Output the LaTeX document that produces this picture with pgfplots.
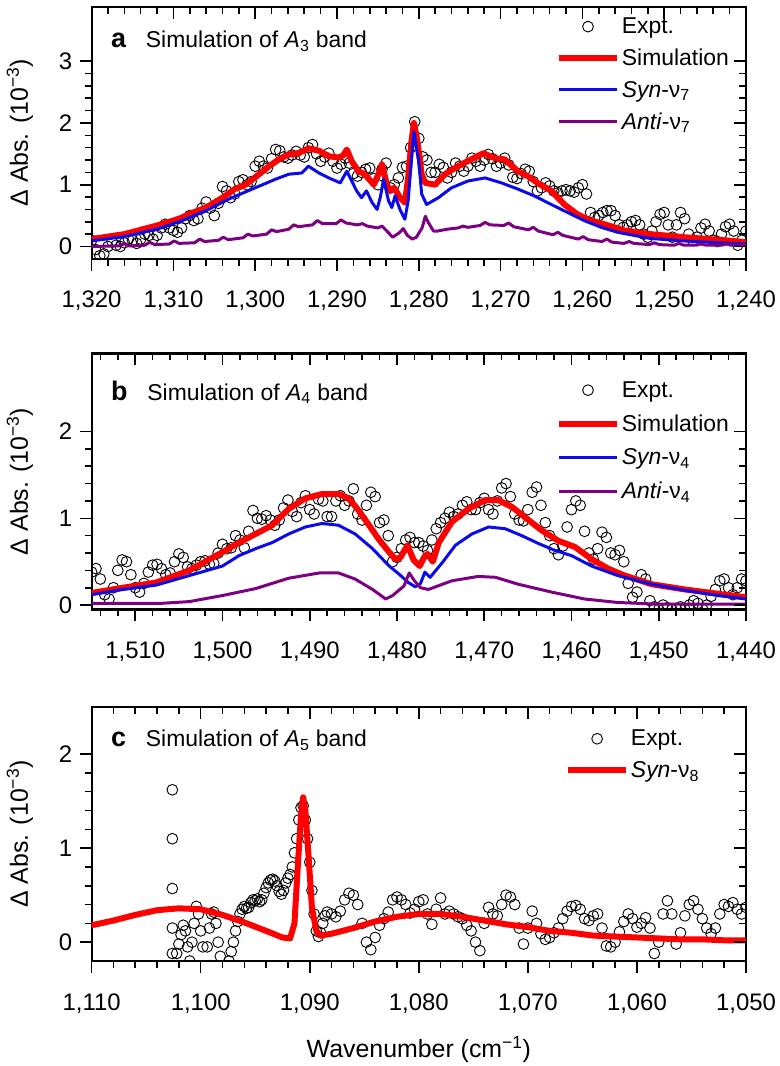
\documentclass[border=0pt]{standalone}
\usepackage{fontspec}
\setmainfont{Liberation Sans}
\usepackage{pgfplots}
\pgfplotsset{compat=1.18}

\definecolor{simred}{RGB}{255,0,0}
\definecolor{synblue}{RGB}{10,10,235}
\definecolor{antipurple}{RGB}{125,0,130}

\pgfplotsset{
  base/.style={scale only axis, width=657pt, x dir=reverse,
    xtick distance=10, minor x tick num=4, minor y tick num=4,
    major tick length=12pt, minor tick length=7pt,
    tick style={black, line width=1.6pt}},
  panel/.style={base, axis line style={line width=2.2pt},
    tick align=outside, xtick pos=bottom, ytick pos=left,
    tick label style={font=\fontsize{24}{28}\selectfont, /pgf/number format/assume math mode=true},
    xticklabel style={/pgf/number format/1000 sep={,}, yshift=-17pt},
    yticklabel style={xshift=-4pt},
    ylabel={Δ Abs. (10\textsuperscript{−3})},
    ylabel style={at={(axis description cs:-0.1096,0.5)}, anchor=center, font=\fontsize{25}{30}\selectfont},
    clip marker paths=true,
    legend cell align=left,
    legend style={draw=none, fill=none, at={(rel axis cs:1,1)}, anchor=north east,
      xshift=-12pt, yshift=-7pt, font=\fontsize{23}{27}\selectfont, row sep=10pt},
    legend image code/.code={\draw[mark repeat=2,mark phase=2,##1] plot coordinates {(0pt,0pt) (29pt,0pt) (58pt,0pt)};},
  },
  mirror/.style={base, axis line style={draw=none}, tick align=inside,
    xtick pos=top, ytick pos=right, xticklabels={}, yticklabels={}},
  expt/.style={only marks, mark=o, mark size=5.4pt, line width=0.9pt, black},
  sim/.style={simred, line width=6pt, line join=round},
  syn/.style={synblue, line width=3pt, line join=round},
  anti/.style={antipurple, line width=3pt, line join=round},
}

\begin{document}
\begin{tikzpicture}[font=\fontsize{23}{27}\selectfont]
\path (-92pt,5pt) (689pt,-1061pt);

% ---------------- panel a
\begin{axis}[panel, at={(0pt,0pt)}, anchor=north west, height=253pt,
  xmin=1240, xmax=1320, ymin=-0.2, ymax=3.88, ytick={0,1,2,3}]
\addplot[expt] coordinates {
(1320,0.1) (1319.5,-0.05) (1319,-0.15) (1318.5,-0.12) (1318,0.0) (1317.5,0.08) (1317,0.02) (1316.5,0.0)
(1316,0.06) (1315.5,0.12) (1315,0.1) (1314.5,0.05) (1314,0.12) (1313.5,0.2) (1313,0.18) (1312.5,0.12)
(1312,0.18) (1311.5,0.3) (1311,0.36) (1310.5,0.3) (1310,0.26) (1309.5,0.23) (1309,0.3) (1308.5,0.45)
(1308,0.5) (1307.5,0.42) (1307,0.45) (1306.5,0.62) (1306,0.72) (1305.5,0.62) (1305,0.5) (1304.5,0.7)
(1304,0.97) (1303.5,0.9) (1303,0.79) (1302.5,0.85) (1302,1.05) (1301.5,1.08) (1301,1.0) (1300.5,1.05)
(1300,1.3) (1299.5,1.38) (1299,1.3) (1298.5,1.27) (1298,1.42) (1297.5,1.57) (1297,1.55) (1296.5,1.45)
(1296,1.43) (1295.5,1.48) (1295,1.54) (1294.5,1.48) (1294,1.45) (1293.5,1.6) (1293,1.65) (1292.5,1.5)
(1292,1.38) (1291.5,1.45) (1291,1.51) (1290.5,1.38) (1290,1.27) (1289.5,1.33) (1289,1.43) (1288.5,1.35)
(1288,1.18) (1287.5,1.14) (1287,1.2) (1286.5,1.25) (1286,1.27) (1285.5,1.1) (1285,1.0) (1284.5,1.25)
(1284,1.35) (1283.5,0.95) (1283,1.0) (1282.5,1.11) (1282,1.28) (1281.5,1.3) (1281,1.6) (1280.5,2.02)
(1280,1.75) (1279.5,1.45) (1279,1.4) (1278.5,1.2) (1278,1.2) (1277.5,1.33) (1277,1.28) (1276.5,1.11)
(1276,1.2) (1275.5,1.35) (1275,1.3) (1274.5,1.22) (1274,1.3) (1273.5,1.43) (1273,1.38) (1272.5,1.3)
(1272,1.4) (1271.5,1.49) (1271,1.42) (1270.5,1.3) (1270,1.35) (1269.5,1.43) (1269,1.32) (1268.5,1.12)
(1268,1.1) (1267.5,1.18) (1267,1.25) (1266.5,1.22) (1266,1.05) (1265.5,0.9) (1265,0.95) (1264.5,1.03)
(1264,0.98) (1263.5,0.9) (1263,0.87) (1262.5,0.9) (1262,0.92) (1261.5,0.9) (1261,0.88) (1260.5,0.95)
(1260,1.0) (1259.5,0.85) (1259,0.55) (1258.5,0.47) (1258,0.5) (1257.5,0.55) (1257,0.58) (1256.5,0.58)
(1256,0.5) (1255.5,0.35) (1255,0.31) (1254.5,0.35) (1254,0.4) (1253.5,0.42) (1253,0.35) (1252.5,0.2)
(1252,0.15) (1251.5,0.25) (1251,0.4) (1250.5,0.52) (1250,0.55) (1249.5,0.35) (1249,0.15) (1248.5,0.35)
(1248,0.55) (1247.5,0.45) (1247,0.2) (1246.5,0.1) (1246,0.15) (1245.5,0.3) (1245,0.36) (1244.5,0.25)
(1244,0.1) (1243.5,0.08) (1243,0.2) (1242.5,0.32) (1242,0.36) (1241.5,0.25) (1241,0.02) (1240.5,0.1)
(1240,0.25)};
\addlegendentry{Expt.}
\addplot[sim] coordinates {
(1320,0.12) (1318,0.16) (1316,0.2) (1314,0.27) (1312,0.34) (1310,0.42) (1308.9,0.47) (1308,0.53)
(1306,0.63) (1304,0.79) (1302.5,0.93) (1301.2,1.0) (1300,1.12) (1298.3,1.3) (1297,1.42) (1295.9,1.49)
(1294.7,1.51) (1293.5,1.59) (1292.2,1.55) (1291,1.46) (1289.8,1.44) (1289.2,1.48) (1288.8,1.57) (1288.2,1.38)
(1287.4,1.22) (1286.6,1.17) (1285.5,1.0) (1285,1.15) (1284.5,1.33) (1283.9,1.0) (1283.5,0.9) (1283,0.95)
(1282.3,0.79) (1281.7,0.71) (1281.3,1.11) (1280.9,1.7) (1280.6,2.0) (1280.3,1.8) (1280,1.54) (1279.65,1.17)
(1279.2,1.03) (1278,1.0) (1276.8,1.17) (1275.2,1.3) (1273.6,1.41) (1272.1,1.51) (1270.7,1.43) (1269.5,1.41)
(1267.9,1.22) (1266.7,1.14) (1265.5,1.03) (1263.8,0.9) (1262.2,0.68) (1260.6,0.52) (1259,0.42) (1257.3,0.36)
(1254.9,0.26) (1251.7,0.2) (1247.6,0.15) (1243.5,0.11) (1240,0.07)};
\addlegendentry{Simulation}
\addplot[syn] coordinates {
(1320,0.09) (1316,0.16) (1312,0.28) (1308.9,0.42) (1306,0.58) (1303.2,0.77) (1300,0.95) (1297.5,1.09)
(1295.9,1.17) (1294.3,1.19) (1293.5,1.3) (1292.2,1.19) (1291,1.11) (1289.6,1.03) (1288.8,1.22) (1288.2,1.06)
(1287.6,0.9) (1287,0.79) (1286.4,0.9) (1285.7,0.71) (1285.1,0.6) (1284.7,0.8) (1284.3,1.09) (1283.7,0.74)
(1283.3,0.63) (1282.9,0.82) (1282.3,0.6) (1281.7,0.44) (1281.3,0.74) (1280.9,1.4) (1280.6,1.86) (1280.3,1.6)
(1280,1.38) (1279.65,0.85) (1279.05,0.68) (1277.6,0.79) (1276,0.95) (1274,1.06) (1271.9,1.11) (1269.9,1.03)
(1267.9,0.93) (1265.9,0.82) (1263.8,0.68) (1261.8,0.55) (1259.8,0.42) (1257.7,0.31) (1255.7,0.23) (1253.7,0.18)
(1251.7,0.13) (1247.6,0.09) (1243.5,0.06) (1240,0.04)};
\addlegendentry{\textit{Syn}-ν\textsubscript{7}}
\addplot[anti] coordinates {
(1320,0.0) (1316.5,0.01) (1316,0.05) (1315.4,0.01) (1313.5,0.02) (1312.9,0.07) (1312.3,0.03) (1310.5,0.04)
(1309.9,0.09) (1309.3,0.05) (1307.4,0.06) (1306.8,0.12) (1306.2,0.08) (1304.5,0.1) (1303.9,0.15) (1303.3,0.11)
(1301.5,0.14) (1300.9,0.2) (1300.3,0.17) (1298.6,0.2) (1298,0.27) (1297.4,0.24) (1295.9,0.28) (1295.3,0.35)
(1294.7,0.32) (1293,0.35) (1292.4,0.42) (1291.8,0.37) (1290.1,0.37) (1289.5,0.43) (1288.9,0.38) (1287.5,0.35)
(1286.9,0.37) (1286.3,0.33) (1285,0.3) (1284.5,0.33) (1283.9,0.25) (1283.2,0.15) (1282.4,0.22) (1281.9,0.29)
(1281.4,0.18) (1280.8,0.12) (1280.3,0.15) (1279.6,0.3) (1279.2,0.49) (1278.8,0.38) (1278.2,0.25) (1277.7,0.25)
(1276.5,0.28) (1275.2,0.3) (1274.6,0.33) (1274,0.31) (1272.5,0.34) (1271.9,0.39) (1271.3,0.35) (1269.6,0.34)
(1269,0.38) (1268.4,0.32) (1266.6,0.27) (1266,0.31) (1265.4,0.25) (1263.6,0.19) (1263,0.23) (1262.4,0.18)
(1260.5,0.12) (1259.9,0.16) (1259.3,0.11) (1257.6,0.08) (1257,0.12) (1256.4,0.07) (1254.9,0.05) (1254.3,0.08)
(1253.7,0.05) (1251.8,0.03) (1251.2,0.06) (1250.6,0.03) (1248.8,0.02) (1248.2,0.05) (1247.6,0.02) (1246.1,0.02)
(1245.5,0.04) (1244.9,0.02) (1243,0.02) (1242.4,0.04) (1241.8,0.02) (1240,0.02)};
\addlegendentry{\textit{Anti}-ν\textsubscript{7}}
\node[anchor=base west, xshift=16pt, yshift=-41pt] at (rel axis cs:0,1)
  {{\fontsize{27}{30}\selectfont\bfseries a}\hspace{20pt}Simulation of \textit{A}\textsubscript{3} band};
\end{axis}
\begin{axis}[mirror, at={(0pt,0pt)}, anchor=north west, height=253pt,
  xmin=1240, xmax=1320, ymin=-0.2, ymax=3.88, ytick={0,1,2,3}]
\end{axis}

% ---------------- panel b
\begin{axis}[panel, at={(0pt,-348pt)}, anchor=north west, height=257pt,
  xmin=1440, xmax=1515, ymin=-0.05, ymax=2.9, ytick={0,1,2},
  legend style={yshift=-17pt, row sep=12pt}]
\addplot[expt] coordinates {
(1515,0.38) (1514.5,0.42) (1514,0.3) (1513.5,0.12) (1513,0.07) (1512.5,0.2) (1512,0.4) (1511.5,0.52)
(1511,0.5) (1510.5,0.35) (1510,0.2) (1509.5,0.15) (1509,0.25) (1508.5,0.38) (1508,0.46) (1507.5,0.47)
(1507,0.42) (1506.5,0.35) (1506,0.37) (1505.5,0.5) (1505,0.59) (1504.5,0.55) (1504,0.44) (1503.5,0.42)
(1503,0.46) (1502.5,0.5) (1502,0.51) (1501.5,0.47) (1501,0.48) (1500.5,0.6) (1500,0.7) (1499.5,0.65)
(1499,0.66) (1498.5,0.8) (1498,0.75) (1497.5,0.66) (1497,0.85) (1496.5,1.09) (1496,1.0) (1495.5,0.99)
(1495,1.03) (1494.5,0.98) (1494,0.92) (1493.5,0.98) (1493,1.12) (1492.5,1.21) (1492,1.08) (1491.5,1.02)
(1491,1.18) (1490.5,1.26) (1490,1.1) (1489.5,1.05) (1489,1.22) (1488.5,1.2) (1488,1.02) (1487.5,1.02)
(1487,1.2) (1486.5,1.26) (1486,1.15) (1485.5,1.2) (1485,1.34) (1484.5,1.05) (1484,0.98) (1483.5,1.15)
(1483,1.3) (1482.5,1.25) (1482,0.95) (1481.5,0.98) (1481,0.8) (1480.5,0.5) (1480,0.55) (1479.5,0.65)
(1479,0.75) (1478.5,0.78) (1478,0.72) (1477.5,0.72) (1477,0.68) (1476.5,0.63) (1476,0.75) (1475.5,0.88)
(1475,0.95) (1474.5,1.0) (1474,1.07) (1473.5,1.02) (1473,1.05) (1472.5,1.15) (1472,1.19) (1471.5,1.1)
(1471,1.1) (1470.5,1.18) (1470,1.23) (1469.5,1.1) (1469,1.05) (1468.5,1.2) (1468,1.35) (1467.5,1.4)
(1467,1.25) (1466.5,1.05) (1466,0.98) (1465.5,0.97) (1465,1.1) (1464.5,1.3) (1464,1.36) (1463.5,1.15)
(1463,0.95) (1462.5,0.8) (1462,0.65) (1461.5,0.58) (1461,0.68) (1460.5,0.9) (1460,1.1) (1459.5,1.2)
(1459,1.15) (1458.5,0.85) (1458,0.6) (1457.5,0.53) (1457,0.65) (1456.5,0.84) (1456,0.78) (1455.5,0.6)
(1455,0.58) (1454.5,0.63) (1454,0.5) (1453.5,0.25) (1453,0.09) (1452.5,0.15) (1452,0.35) (1451.5,0.3)
(1451,0.05) (1450.5,-0.02) (1450,-0.05) (1449.5,0.0) (1449,-0.03) (1448.5,-0.05) (1448,-0.04) (1447.5,-0.02)
(1447,-0.05) (1446.5,0.0) (1446,0.05) (1445.5,0.02) (1445,-0.04) (1444.5,0.0) (1444,0.1) (1443.5,0.18)
(1443,0.28) (1442.5,0.3) (1442,0.2) (1441.5,0.12) (1441,0.2) (1440.5,0.3) (1440,0.28)};
\addlegendentry{Expt.}
\addplot[sim] coordinates {
(1515,0.14) (1511.4,0.2) (1507.6,0.26) (1503.8,0.4) (1500,0.61) (1498.1,0.72) (1496.2,0.82) (1494.3,0.92)
(1492.4,1.11) (1490.5,1.23) (1488.6,1.28) (1486.7,1.28) (1485.5,1.23) (1484.4,1.09) (1483.2,0.92) (1482.1,0.76)
(1480.9,0.61) (1480.2,0.53) (1479.6,0.55) (1478.8,0.69) (1478.1,0.52) (1477.4,0.45) (1476.9,0.55) (1476.5,0.59)
(1475.9,0.5) (1475.2,0.72) (1473.7,0.96) (1471.8,1.11) (1469.9,1.21) (1468.4,1.21) (1466.8,1.13) (1465.3,1.01)
(1463.4,0.86) (1461.5,0.74) (1459.6,0.67) (1457.7,0.53) (1455.8,0.42) (1453.9,0.34) (1450.8,0.24) (1447,0.18)
(1443.2,0.13) (1440,0.09)};
\addlegendentry{Simulation}
\addplot[syn] coordinates {
(1515,0.12) (1511.4,0.18) (1507.6,0.23) (1503.8,0.34) (1500,0.45) (1498.1,0.57) (1496.2,0.65) (1494.3,0.72)
(1492.4,0.82) (1490.5,0.9) (1488.6,0.94) (1486.7,0.92) (1484.8,0.82) (1482.8,0.65) (1480.9,0.45) (1479.8,0.36)
(1478.7,0.26) (1477.9,0.21) (1477.3,0.25) (1476.8,0.38) (1476.2,0.32) (1474.8,0.49) (1473.3,0.69) (1471.4,0.82)
(1469.5,0.9) (1467.6,0.88) (1465.7,0.8) (1463.8,0.71) (1461.9,0.63) (1460,0.57) (1457.7,0.45) (1454.7,0.34)
(1450.8,0.24) (1447,0.17) (1443.2,0.11) (1440,0.07)};
\addlegendentry{\textit{Syn}-ν\textsubscript{4}}
\addplot[anti] coordinates {
(1515,0.02) (1507,0.02) (1503.8,0.04) (1500,0.11) (1496.2,0.19) (1492.4,0.31) (1488.9,0.37) (1486.7,0.37)
(1484.8,0.3) (1482.8,0.18) (1481.3,0.07) (1480.5,0.11) (1479.2,0.22) (1478.6,0.37) (1478,0.28) (1477.3,0.2)
(1476.4,0.18) (1473.7,0.28) (1470.7,0.33) (1468.7,0.32) (1466.1,0.24) (1462.3,0.15) (1458.5,0.07) (1454.7,0.03)
(1450,0.01) (1440,0.01)};
\addlegendentry{\textit{Anti}-ν\textsubscript{4}}
\node[anchor=base west, xshift=16pt, yshift=-47pt] at (rel axis cs:0,1)
  {{\fontsize{27}{30}\selectfont\bfseries b}\hspace{20pt}Simulation of \textit{A}\textsubscript{4} band};
\end{axis}
\begin{axis}[mirror, at={(0pt,-348pt)}, anchor=north west, height=257pt,
  xmin=1440, xmax=1515, ymin=-0.05, ymax=2.9, ytick={0,1,2}]
\end{axis}

% ---------------- panel c
\begin{axis}[panel, at={(0pt,-703pt)}, anchor=north west, height=255pt,
  xmin=1050, xmax=1110, ymin=-0.2, ymax=2.5, ytick={0,1,2},
  legend style={xshift=-30pt, yshift=-12pt},
  xlabel={Wavenumber (cm\textsuperscript{−1})},
  xlabel style={at={(axis description cs:0.5,-0.349)}, anchor=center, font=\fontsize{25}{30}\selectfont}]
\addplot[expt] coordinates {
(1102.6,1.62) (1102.6,1.10) (1102.6,0.57) (1102.6,0.15) (1102.6,-0.12)
(1102.4,-0.22) (1102.2,-0.12) (1102.0,-0.02) (1101.8,0.08) (1101.6,0.18) (1101.4,0.12) (1101.2,-0.05) (1101.0,-0.2)
(1100.8,0.0) (1100.6,0.2) (1100.4,0.38) (1100.2,0.3) (1100.0,0.12) (1099.8,-0.05) (1099.6,-0.22) (1099.4,-0.05)
(1099.2,0.15) (1099.0,0.3) (1098.8,0.32) (1098.6,0.2) (1098.4,0.0) (1098.2,-0.15) (1098.0,-0.25) (1097.8,-0.22)
(1097.6,-0.25) (1097.4,-0.2) (1097.2,-0.1) (1097.0,0.0) (1096.8,0.12) (1096.6,0.22) (1096.4,0.3) (1096.2,0.35)
(1096.0,0.38) (1095.8,0.36) (1095.6,0.37) (1095.4,0.42) (1095.2,0.45) (1095.0,0.44) (1094.8,0.46) (1094.6,0.43)
(1094.4,0.45) (1094.2,0.52) (1094.0,0.58) (1093.8,0.63) (1093.6,0.66) (1093.4,0.67) (1093.2,0.65) (1093.0,0.6)
(1092.8,0.54) (1092.6,0.51) (1092.4,0.55) (1092.2,0.63) (1092.0,0.68) (1091.8,0.72) (1091.6,0.8) (1091.4,0.95)
(1091.2,1.1) (1091.0,1.3) (1090.8,1.43) (1090.6,1.45) (1090.4,1.3) (1090.2,1.1) (1090.0,0.85) (1089.8,0.55)
(1089.6,0.3) (1089.4,0.12) (1089.2,0.06) (1089.0,0.1) (1088.8,0.2) (1088.6,0.28) (1088.4,0.32) (1088.0,0.3)
(1087.6,0.27) (1087.2,0.33) (1086.8,0.45) (1086.4,0.52) (1086.0,0.5) (1085.6,0.4) (1085.2,0.2) (1084.8,0.0)
(1084.4,-0.08) (1084.0,0.05) (1083.6,0.18) (1083.2,0.25) (1082.8,0.32) (1082.4,0.45) (1082.0,0.48) (1081.6,0.45)
(1081.2,0.4) (1080.8,0.31) (1080.4,0.35) (1080.0,0.43) (1079.6,0.45) (1079.2,0.3) (1078.8,0.19) (1078.4,0.35)
(1078.0,0.47) (1077.6,0.3) (1077.2,0.33) (1076.8,0.3) (1076.4,0.27) (1076.0,0.25) (1075.6,0.18) (1075.2,0.12)
(1074.8,0.0) (1074.4,-0.09) (1074.0,0.2) (1073.6,0.37) (1073.2,0.3) (1072.8,0.28) (1072.4,0.4) (1072.0,0.5)
(1071.6,0.48) (1071.2,0.4) (1070.8,0.15) (1070.4,-0.02) (1070.0,0.15) (1069.6,0.33) (1069.2,0.2) (1068.8,0.09)
(1068.4,0.03) (1068.0,0.05) (1067.6,0.1) (1067.2,0.15) (1066.8,0.25) (1066.4,0.33) (1066.0,0.38) (1065.6,0.39)
(1065.2,0.35) (1064.8,0.25) (1064.4,0.23) (1064.0,0.28) (1063.6,0.3) (1063.2,0.15) (1062.8,-0.04) (1062.4,-0.05)
(1062.0,0.0) (1061.6,0.11) (1061.2,0.22) (1060.8,0.3) (1060.4,0.25) (1060.0,0.16) (1059.6,0.2) (1059.2,0.26)
(1058.8,0.15) (1058.4,-0.12) (1058.0,0.0) (1057.6,0.3) (1057.2,0.44) (1056.8,0.3) (1056.4,-0.02) (1056.0,0.1)
(1055.6,0.28) (1055.2,0.4) (1054.8,0.44) (1054.4,0.35) (1054.0,0.25) (1053.6,0.15) (1053.2,0.09) (1052.8,0.15)
(1052.4,0.3) (1052.0,0.4) (1051.6,0.38) (1051.2,0.42) (1050.8,0.35) (1050.4,0.3) (1050.0,0.37)};
\addlegendentry{Expt.}
\addplot[sim] coordinates {
(1110,0.18) (1108,0.23) (1106,0.29) (1104,0.34) (1102,0.36) (1100,0.35) (1098,0.29) (1096,0.21)
(1094,0.12) (1092.5,0.05) (1091.8,0.04) (1091.4,0.2) (1091.1,0.8) (1090.8,1.35) (1090.6,1.54) (1090.4,1.4)
(1090.1,0.9) (1089.8,0.37) (1089.4,0.12) (1089,0.07) (1088,0.09) (1086,0.15) (1084,0.22) (1082,0.27)
(1080,0.3) (1078,0.3) (1076,0.27) (1074,0.23) (1072,0.19) (1070,0.16) (1068,0.12) (1066,0.1)
(1064,0.07) (1062,0.06) (1060,0.05) (1058,0.04) (1056,0.03) (1054,0.03) (1052,0.02) (1050,0.02)};
\addlegendentry{\textit{Syn}-ν\textsubscript{8}}
\node[anchor=base west, xshift=16pt, yshift=-40pt] at (rel axis cs:0,1)
  {{\fontsize{27}{30}\selectfont\bfseries c}\hspace{20pt}Simulation of \textit{A}\textsubscript{5} band};
\end{axis}
\begin{axis}[mirror, at={(0pt,-703pt)}, anchor=north west, height=255pt,
  xmin=1050, xmax=1110, ymin=-0.2, ymax=2.5, ytick={0,1,2}]
\end{axis}
\end{tikzpicture}
\end{document}
